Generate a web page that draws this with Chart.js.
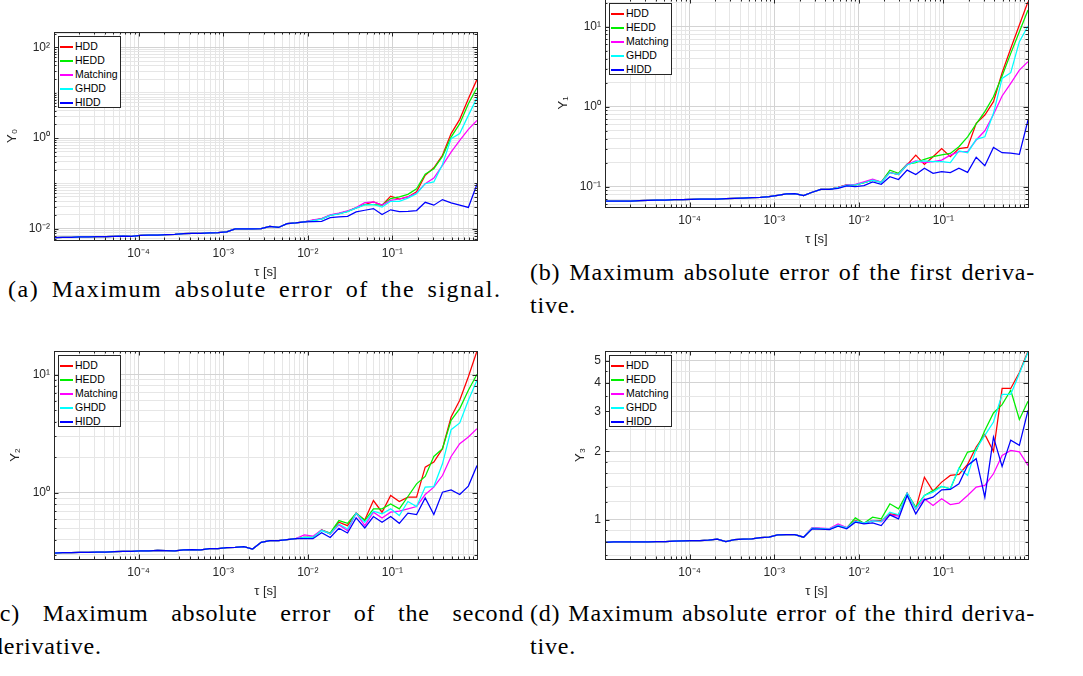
<!DOCTYPE html>
<html>
<head>
<meta charset="utf-8">
<script src="https://cdn.jsdelivr.net/npm/chart.js@4.4.0/dist/chart.umd.min.js"></script>
<style>
  html, body { margin:0; padding:0; background:#fff; }
  body { width:1083px; height:676px; position:relative; overflow:hidden; }
  canvas { position:absolute; }
  .legend { position:absolute; background:#fff; border:1px solid #262626; box-sizing:border-box;
            padding:2px 1px 0 1px; font:10.5px 'Liberation Sans', Arial, sans-serif; color:#000; }
  .legend div { height:14px; line-height:14px; white-space:nowrap; }
  .legend .sw { display:inline-block; width:13px; height:1.5px; vertical-align:middle; margin-right:2px; }
  .cap { position:absolute; font:24px 'Liberation Serif', 'Times New Roman', serif; line-height:33px;
         letter-spacing:0.8px; color:#000; white-space:nowrap; }
  .cap .j { text-align:justify; text-align-last:justify; }
</style>
</head>
<body>

<div class="cap" style="left:8px; top:273px; letter-spacing:1.5px; word-spacing:5px;">(a) Maximum absolute error of the signal.</div>
<div class="cap" style="left:530px; top:256px;"><div class="j" style="width:505px">(b) Maximum absolute error of the first deriva-</div><div>tive.</div></div>
<div class="cap" style="left:-9px; top:597px;"><div class="j" style="width:533px">(c) Maximum absolute error of the second</div><div>derivative.</div></div>
<div class="cap" style="left:530px; top:597px;"><div class="j" style="width:505px">(d) Maximum absolute error of the third deriva-</div><div>tive.</div></div>

<script>
// ---------- Daten ----------
// tau [s], 50 logarithmisch verteilte Stützstellen von 1e-5 bis 1
const TAU = [1.000e-5,1.265e-5,1.600e-5,2.024e-5,2.560e-5,3.237e-5,4.095e-5,5.179e-5,6.551e-5,8.286e-5,
             1.048e-4,1.326e-4,1.677e-4,2.121e-4,2.683e-4,3.393e-4,4.292e-4,5.429e-4,6.866e-4,8.685e-4,
             1.099e-3,1.389e-3,1.758e-3,2.223e-3,2.812e-3,3.556e-3,4.498e-3,5.690e-3,7.197e-3,9.103e-3,
             1.151e-2,1.456e-2,1.842e-2,2.330e-2,2.947e-2,3.728e-2,4.715e-2,5.964e-2,7.543e-2,9.541e-2,
             1.207e-1,1.526e-1,1.931e-1,2.442e-1,3.089e-1,3.907e-1,4.942e-1,6.251e-1,7.906e-1,1.000];

const SERIES = ['HDD','HEDD','Matching','GHDD','HIDD'];
const COLORS = ['#ff0000','#00ee00','#ff00ff','#00ffff','#0000ff'];

// (a) Y0 – gemeinsamer Anfang j=0..29, danach je Verfahren
const Y0_LOW  = [0.00633,0.00643,0.00643,0.00653,0.00653,0.00664,0.00664,0.00675,0.00680,0.00675,
                 0.00710,0.00721,0.00721,0.00733,0.00745,0.00776,0.00789,0.00789,0.00803,0.00816,
                 0.00845,0.00981,0.00981,0.00981,0.00998,0.0112,0.0106,0.0129,0.0133,0.0141];
const Y0_HDD  = Y0_LOW.concat([0.0152,0.0164,0.0197,0.0215,0.0240,0.0286,0.0340,0.0390,0.0330,0.0520,0.0450,0.0500,0.0650,0.150,0.220,0.415,1.25,2.58,7.40,19.7]);
const Y0_HEDD = Y0_LOW.concat([0.0152,0.0164,0.0197,0.0215,0.0240,0.0286,0.0340,0.0340,0.0330,0.0460,0.0500,0.0570,0.0760,0.158,0.210,0.390,1.05,2.07,5.70,12.9]);
const Y0_MAT  = Y0_LOW.concat([0.0155,0.0166,0.0200,0.0220,0.0245,0.0290,0.0375,0.0390,0.0330,0.0420,0.0450,0.0500,0.0610,0.0980,0.131,0.250,0.490,0.890,1.55,2.45]);
const Y0_GHDD = Y0_LOW.concat([0.0150,0.0162,0.0195,0.0212,0.0238,0.0283,0.0335,0.0340,0.0300,0.0400,0.0400,0.0470,0.0590,0.0980,0.107,0.260,0.970,1.25,3.16,7.75]);
const Y0_HIDD = Y0_LOW.concat([0.0143,0.0145,0.0174,0.0182,0.0187,0.0234,0.0254,0.0277,0.0205,0.0260,0.0238,0.0240,0.0250,0.0380,0.0329,0.0437,0.0370,0.0330,0.0293,0.0954]);

// (b) Y1 – gemeinsamer Anfang j=0..26
const Y1_LOW  = [0.0662,0.0662,0.0662,0.0662,0.0668,0.0674,0.0681,0.0681,0.0687,0.0687,
                 0.0694,0.0701,0.0701,0.0701,0.0707,0.0714,0.0721,0.0728,0.0735,0.0750,
                 0.0781,0.0811,0.0818,0.0773,0.0851,0.0927,0.0927];
const Y1_HDD  = Y1_LOW.concat([0.098,0.105,0.105,0.112,0.121,0.114,0.151,0.142,0.187,0.248,0.190,0.237,0.300,0.237,0.300,0.310,0.620,0.787,1.155,2.66,5.35,10.5,20.5]);
const Y1_HEDD = Y1_LOW.concat([0.098,0.105,0.105,0.112,0.121,0.114,0.161,0.147,0.192,0.200,0.220,0.237,0.250,0.260,0.316,0.420,0.610,0.866,1.33,2.42,4.64,8.66,16.2]);
const Y1_MAT  = Y1_LOW.concat([0.098,0.105,0.107,0.115,0.124,0.114,0.151,0.142,0.190,0.210,0.200,0.205,0.215,0.248,0.274,0.274,0.383,0.500,0.800,1.36,1.96,2.87,3.65]);
const Y1_GHDD = Y1_LOW.concat([0.097,0.104,0.105,0.112,0.121,0.113,0.150,0.142,0.187,0.205,0.210,0.205,0.205,0.200,0.280,0.266,0.390,0.420,0.826,2.26,2.66,6.50,10.2]);
const Y1_HIDD = Y1_LOW.concat([0.0954,0.102,0.100,0.103,0.115,0.107,0.133,0.123,0.161,0.142,0.170,0.147,0.154,0.150,0.170,0.151,0.233,0.183,0.310,0.266,0.262,0.254,0.680]);

// (c) Y2 – gemeinsamer Anfang j=0..28
const Y2_LOW  = [0.310,0.312,0.312,0.314,0.314,0.316,0.316,0.318,0.320,0.320,
                 0.323,0.323,0.327,0.325,0.323,0.329,0.331,0.329,0.338,0.338,
                 0.344,0.346,0.351,0.335,0.382,0.394,0.394,0.403,0.410];
const Y2_HDD  = Y2_LOW.concat([0.420,0.420,0.486,0.450,0.564,0.528,0.673,0.590,0.861,0.686,0.949,0.845,0.919,0.919,1.65,1.82,2.36,4.37,6.06,9.56,15.8]);
const Y2_HEDD = Y2_LOW.concat([0.420,0.420,0.486,0.458,0.583,0.553,0.673,0.583,0.732,0.732,0.807,0.732,0.931,1.19,1.375,2.03,2.36,4.10,5.15,7.37,10.05]);
const Y2_MAT  = Y2_LOW.concat([0.441,0.430,0.486,0.450,0.536,0.480,0.673,0.528,0.686,0.614,0.686,0.700,0.732,0.766,0.968,1.117,1.40,2.03,2.60,2.96,3.48]);
const Y2_GHDD = Y2_LOW.concat([0.420,0.420,0.480,0.450,0.546,0.495,0.673,0.564,0.700,0.664,0.732,0.642,0.845,0.766,1.12,1.13,1.76,3.42,3.90,6.06,8.95]);
const Y2_HIDD = Y2_LOW.concat([0.410,0.410,0.461,0.420,0.502,0.458,0.614,0.505,0.630,0.564,0.630,0.553,0.673,0.655,0.907,0.655,1.013,1.06,0.968,1.14,1.70]);

// (d) Y3 – gemeinsamer Anfang j=0..23
const Y3_LOW  = [0.797,0.800,0.800,0.800,0.800,0.800,0.803,0.803,0.806,0.808,
                 0.811,0.811,0.814,0.822,0.803,0.819,0.822,0.825,0.836,0.839,
                 0.859,0.862,0.862,0.839];
const Y3_HDD  = Y3_LOW.concat([0.919,0.915,0.910,0.945,0.922,0.993,0.967,0.993,0.993,1.063,1.052,1.31,1.118,1.54,1.337,1.465,1.567,1.583,1.753,2.09,2.37,2.00,3.78,3.78,4.44,5.50]);
const Y3_HEDD = Y3_LOW.concat([0.919,0.915,0.910,0.945,0.922,1.020,0.967,1.027,1.010,1.176,1.118,1.31,1.137,1.28,1.346,1.402,1.37,1.677,1.986,2.02,2.47,2.95,3.21,3.71,2.76,3.32]);
const Y3_MAT  = Y3_LOW.concat([0.925,0.920,0.915,0.960,0.925,0.987,0.967,0.993,0.980,1.050,1.040,1.31,1.118,1.237,1.156,1.237,1.168,1.184,1.28,1.393,1.416,1.594,1.92,2.02,1.99,1.735]);
const Y3_GHDD = Y3_LOW.concat([0.919,0.915,0.910,0.945,0.922,0.987,0.967,0.990,0.985,1.080,1.052,1.31,1.118,1.28,1.324,1.402,1.37,1.69,1.567,2.05,2.35,2.69,3.56,3.56,4.40,5.45]);
const Y3_HIDD = Y3_LOW.concat([0.913,0.910,0.907,0.938,0.913,0.977,0.960,0.970,0.944,1.052,1.010,1.28,1.063,1.225,1.258,1.355,1.36,1.44,1.735,1.857,1.258,2.31,1.717,2.24,2.125,3.03]);

// Achsenbeschriftungen
const X_LABELS  = [1e-4, 1e-3, 1e-2, 1e-1];
const Y0_LABELS = [1e-2, 1, 1e2];
const Y1_LABELS = [1e-1, 1, 10];
const Y2_LABELS = [1, 10];
const Y3_LABELS = [1, 2, 3, 4, 5];
const Y3_MINOR  = [0.7, 0.8, 0.9, 1.2, 1.4, 1.6, 1.8, 2.5, 3.5, 4.5, 5.5];

// ---------- Layout ----------
const AXIS = '#262626', GRID_MAJOR = '#d3d3d3', GRID_MINOR = '#e6e6e6';
const FONT = "'Liberation Sans', Arial, sans-serif";
const PANELS = [
  {left:0,   top:0,   ymin:0.0056, ymax:219,  labels:Y0_LABELS, title:'Y₀', tOff:5.5,
   data:[Y0_HDD,Y0_HEDD,Y0_MAT,Y0_GHDD,Y0_HIDD]},
  {left:551, top:-33, ymin:0.0557, ymax:22.2, labels:Y1_LABELS, title:'Y₁', tOff:5.5,
   data:[Y1_HDD,Y1_HEDD,Y1_MAT,Y1_GHDD,Y1_HIDD]},
  {left:0,   top:319, ymin:0.276,  ymax:15.8, labels:Y2_LABELS, title:'Y₂', tOff:8.5,
   data:[Y2_HDD,Y2_HEDD,Y2_MAT,Y2_GHDD,Y2_HIDD]},
  {left:551, top:319, ymin:0.673,  ymax:5.52, labels:Y3_LABELS, minor:Y3_MINOR, title:'Y₃', tOff:22.5,
   data:[Y3_HDD,Y3_HEDD,Y3_MAT,Y3_GHDD,Y3_HIDD]}
];

// ---------- Hilfsfunktionen ----------
function near(a, b){ return Math.abs(a - b) <= 1e-6 * Math.max(Math.abs(a), Math.abs(b)); }
function inList(v, list){ return list.some(t => near(t, v)); }
function isPow10(v){ const l = Math.log10(v); return Math.abs(l - Math.round(l)) < 1e-9; }
function sup(n){ const m = {'-':'⁻','0':'⁰','1':'¹','2':'²','3':'³','4':'⁴','5':'⁵','6':'⁶','7':'⁷','8':'⁸','9':'⁹'}; return String(n).split('').map(c => m[c]).join(''); }
function powLabel(v){ return '10' + sup(Math.round(Math.log10(v))); }
function logTicks(min, max){
  const out = [];
  for (let e = Math.floor(Math.log10(min)); e <= Math.ceil(Math.log10(max)); e++) {
    for (let k = 1; k <= 9; k++) {
      const v = parseFloat((k * Math.pow(10, e)).toPrecision(6));
      if (v >= min * (1 - 1e-9) && v <= max * (1 + 1e-9)) out.push(v);
    }
  }
  return out;
}

// Rahmen mit Innen-Ticks wie in MATLAB
const boxPlugin = {
  id: 'matlabBox',
  afterDraw(chart){
    const {ctx, chartArea: a, scales: {x, y}} = chart;
    const yMajor = chart.options.scales.y.majorList;
    ctx.save();
    ctx.strokeStyle = AXIS; ctx.lineWidth = 1;
    ctx.beginPath();
    x.ticks.forEach(t => {
      const px = Math.round(x.getPixelForValue(t.value)) + 0.5, len = isPow10(t.value) ? 4.5 : 2.5;
      ctx.moveTo(px, a.bottom); ctx.lineTo(px, a.bottom - len);
      ctx.moveTo(px, a.top); ctx.lineTo(px, a.top + len);
    });
    y.ticks.forEach(t => {
      const py = Math.round(y.getPixelForValue(t.value)) + 0.5, len = inList(t.value, yMajor) ? 4.5 : 2.5;
      ctx.moveTo(a.left, py); ctx.lineTo(a.left + len, py);
      ctx.moveTo(a.right, py); ctx.lineTo(a.right - len, py);
    });
    ctx.stroke();
    ctx.strokeRect(Math.round(a.left) + 0.5, Math.round(a.top) + 0.5, Math.round(a.right - a.left), Math.round(a.bottom - a.top));
    ctx.restore();
  }
};

function makePanel(p){
  const cv = document.createElement('canvas');
  cv.width = 520; cv.height = 290;
  cv.style.left = p.left + 'px'; cv.style.top = p.top + 'px';
  document.body.appendChild(cv);

  const yTicks = p.minor ? p.labels.concat(p.minor).sort((a, b) => a - b) : logTicks(p.ymin, p.ymax);
  const datasets = SERIES.map((name, i) => ({
    label: name,
    data: p.data[i].map((v, k) => ({x: TAU[k], y: v})),
    borderColor: COLORS[i], borderWidth: 1.25, pointRadius: 0, fill: false, tension: 0,
    order: SERIES.length - 1 - i
  }));

  const chart = new Chart(cv, {
    type: 'line',
    data: {datasets},
    options: {
      responsive: false, animation: false, devicePixelRatio: 1,
      layout: {padding: {left: 0, top: 32, right: 43, bottom: 0}},
      plugins: {legend: {display: false}, tooltip: {enabled: false}},
      scales: {
        x: {
          type: 'logarithmic', min: 1e-5, max: 1,
          afterBuildTicks: s => { s.ticks = logTicks(1e-5, 1).map(v => ({value: v})); },
          afterFit: s => { s.height = 50; },
          grid: {color: c => (c.tick && isPow10(c.tick.value)) ? GRID_MAJOR : GRID_MINOR, drawTicks: false},
          border: {display: false},
          ticks: {autoSkip: false, maxRotation: 0, padding: 6, color: AXIS, font: {family: FONT, size: 12},
                  callback: v => inList(v, X_LABELS) ? powLabel(v) : ''},
          title: {display: true, text: 'τ [s]', color: AXIS, font: {family: FONT, size: 13, lineHeight: 1},
                  padding: {top: 0, bottom: 11.5}}
        },
        y: {
          type: 'logarithmic', min: p.ymin, max: p.ymax, majorList: p.labels,
          afterBuildTicks: s => { s.ticks = yTicks.map(v => ({value: v})); },
          afterFit: s => { s.width = 54; },
          grid: {color: c => (c.tick && inList(c.tick.value, p.labels)) ? GRID_MAJOR : GRID_MINOR, drawTicks: false},
          border: {display: false},
          ticks: {autoSkip: false, padding: 4, color: AXIS, font: {family: FONT, size: 12},
                  callback: v => inList(v, p.labels) ? (p.minor ? String(v) : powLabel(v)) : ''},
          title: {display: true, text: p.title, color: AXIS, font: {family: FONT, size: 13, lineHeight: 1},
                  padding: {top: p.tOff, bottom: 0}}
        }
      }
    },
    plugins: [boxPlugin]
  });

  // Legende innen oben links
  const lg = document.createElement('div');
  lg.className = 'legend';
  lg.style.left = (p.left + chart.chartArea.left + 4) + 'px';
  lg.style.top = (p.top + chart.chartArea.top + 4) + 'px';
  lg.style.width = '63px'; lg.style.height = '72px';
  lg.innerHTML = SERIES.map((n, i) => `<div><span class="sw" style="background:${COLORS[i]}"></span>${n}</div>`).join('');
  document.body.appendChild(lg);
  return chart;
}

PANELS.forEach(makePanel);
</script>
</body>
</html>
